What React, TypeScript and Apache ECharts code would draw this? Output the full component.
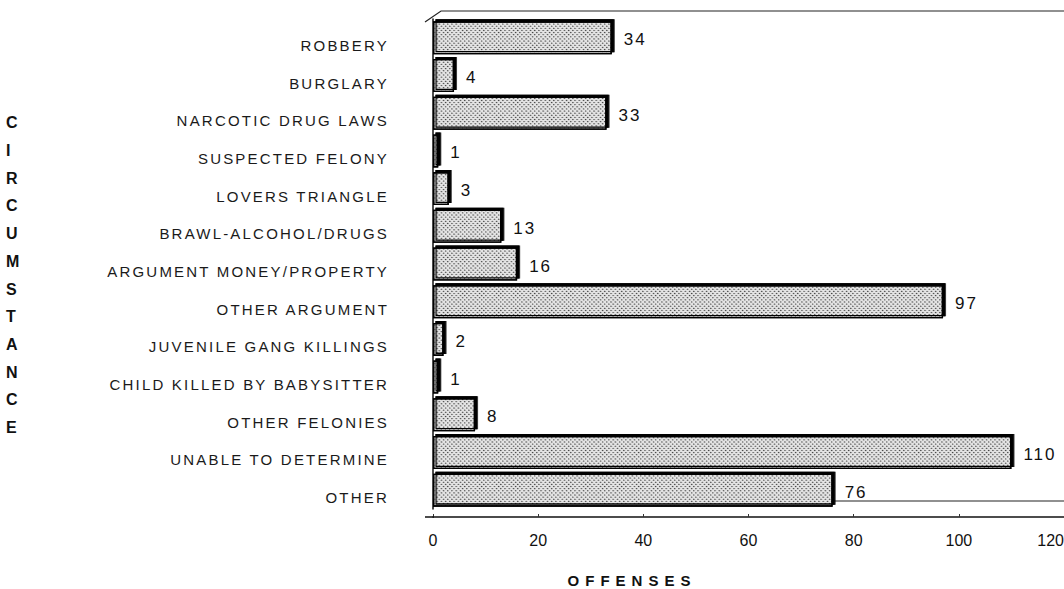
import React, { useEffect, useRef } from "react";
import * as echarts from "echarts";

const categories = [
  "ROBBERY",
  "BURGLARY",
  "NARCOTIC DRUG LAWS",
  "SUSPECTED FELONY",
  "LOVERS TRIANGLE",
  "BRAWL-ALCOHOL/DRUGS",
  "ARGUMENT MONEY/PROPERTY",
  "OTHER ARGUMENT",
  "JUVENILE GANG KILLINGS",
  "CHILD KILLED BY BABYSITTER",
  "OTHER FELONIES",
  "UNABLE TO DETERMINE",
  "OTHER",
];
const offenses = [34, 4, 33, 1, 3, 13, 16, 97, 2, 1, 8, 110, 76];
const xTicks = { min: 0, max: 120, interval: 20 };
const xTitle = "OFFENSES";
const yTitle = "CIRCUMSTANCE";

export default function App() {
  const ref = useRef<HTMLDivElement>(null);
  useEffect(() => {
    const el = ref.current!;
    const chart = echarts.init(el, undefined, { renderer: "svg" });
    const font = "'Liberation Sans', Arial, sans-serif";
    chart.setOption({
      animation: false,
      grid: {
        left: 433,
        top: 19,
        width: 631,
        height: 490,
        containLabel: false,
        outerBoundsMode: "none",
      },
      xAxis: {
        type: "value",
        min: xTicks.min,
        max: xTicks.max,
        interval: xTicks.interval,
        offset: 8,
        axisLine: { show: true, lineStyle: { color: "#111", width: 1.5 } },
        axisTick: { show: true, length: 3, inside: true, lineStyle: { color: "#333" } },
        splitLine: { show: false },
        axisLabel: {
          color: "#111",
          fontSize: 16,
          fontFamily: "'Liberation Sans Narrow', 'Liberation Sans', sans-serif",
          margin: 15,
          alignMaxLabel: "right",
        },
      },
      yAxis: {
        type: "category",
        data: categories,
        inverse: true,
        offset: 8,
        axisLine: { show: true, lineStyle: { color: "#111", width: 1.5 } },
        axisTick: { show: false },
        axisLabel: {
          interval: 0,
          color: "#1a1a1a",
          fontSize: 15,
          fontFamily: font,
          margin: 36,
          verticalAlign: "top",
          lineHeight: 15,
        },
      },
      series: [
        {
          type: "bar",
          data: offenses,
          barWidth: 33,
          itemStyle: {
            color: "#e4e4e4",
            borderColor: "#000",
            borderWidth: 1.3,
            shadowColor: "#000",
            shadowOffsetX: 2.5,
            shadowOffsetY: -2,
            shadowBlur: 0,
            decal: {
              symbol: "rect",
              symbolSize: 1,
              dashArrayX: [1, 2],
              dashArrayY: [1, 2],
              rotation: Math.PI / 4,
              color: "rgba(0,0,0,0.6)",
              backgroundColor: "#e8e8e8",
            },
          },
          label: {
            show: true,
            position: "right",
            distance: 12,
            offset: [0, 2],
            color: "#111",
            fontSize: 17,
            fontFamily: font,
          },
        },
      ],
      graphic: [
        {
          type: "polyline",
          z: 10,
          shape: { points: [[425, 22], [441, 11], [1064, 11]] },
          style: { stroke: "#222", lineWidth: 1.2, fill: null },
        },
        {
          type: "line",
          z: 0,
          shape: { x1: 433, y1: 501, x2: 1064, y2: 501 },
          style: { stroke: "#222", lineWidth: 1.2 },
        },
        {
          type: "line",
          z: 10,
          shape: { x1: 425, y1: 517, x2: 434, y2: 517 },
          style: { stroke: "#111", lineWidth: 1.5 },
        },
        {
          type: "text",
          left: 6,
          top: 109,
          style: {
            text: yTitle.split("").join("\n"),
            font: "bold 16px 'Liberation Sans', Arial, sans-serif",
            lineHeight: 27.7,
            fill: "#111",
            align: "center",
          },
        },
        {
          type: "text",
          x: 632,
          y: 580,
          style: {
            text: xTitle,
            font: "bold 15px 'Liberation Sans', Arial, sans-serif",
            fill: "#111",
            align: "center",
            verticalAlign: "middle",
          },
        },
      ],
    });
    const tickSet = ["0", "20", "40", "60", "80", "100", "120"];
    const applySpacing = () => {
      el.querySelectorAll("text").forEach((t) => {
        const s = (t.textContent || "").trim();
        if (s === xTitle) t.style.letterSpacing = "6px";
        else if (categories.includes(s)) t.style.letterSpacing = "2.2px";
        else if (offenses.map(String).includes(s) && !tickSet.includes(s)) t.style.letterSpacing = "2px";
        else t.style.letterSpacing = "0px";
      });
    };
    applySpacing();
    chart.on("finished", applySpacing);
    const id = window.setTimeout(applySpacing, 50);
    return () => {
      window.clearTimeout(id);
      chart.dispose();
    };
  }, []);
  return (
    <div
      ref={ref}
      style={{ position: "fixed", left: 0, top: 0, width: 1064, height: 589, background: "#fff" }}
    />
  );
}
